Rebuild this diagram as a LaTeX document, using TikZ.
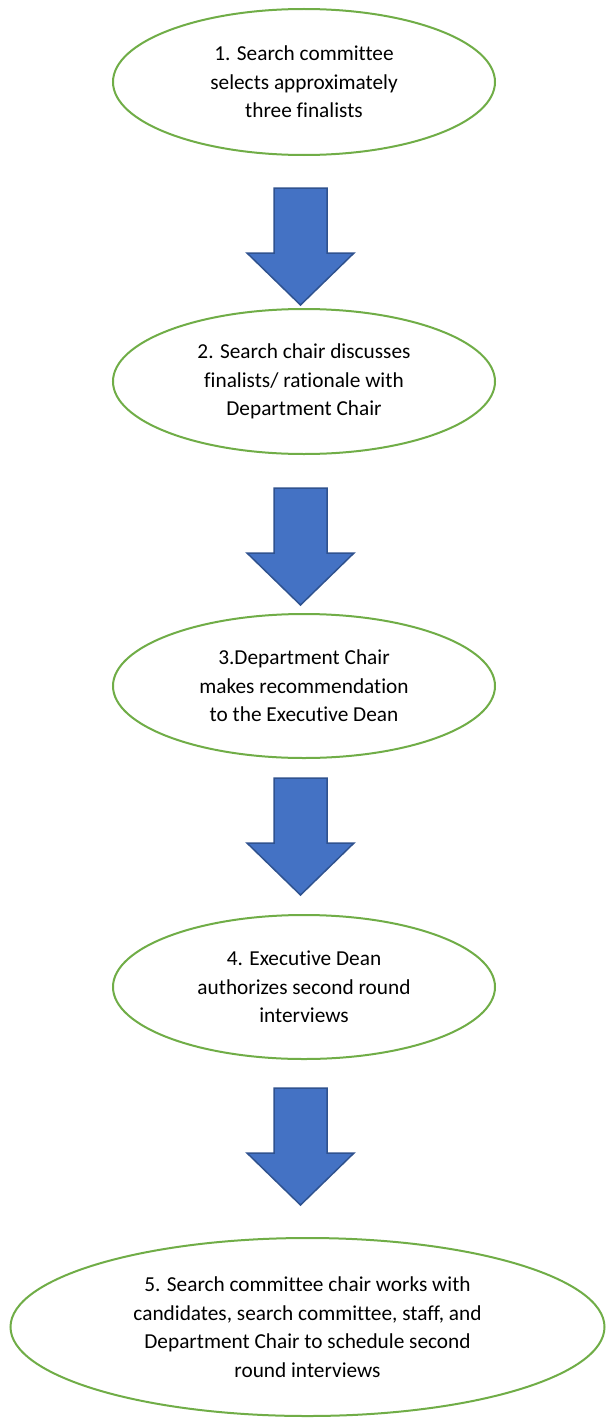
\documentclass[tikz,border=0pt]{standalone}
\usepackage{fontspec}
\setmainfont{Carlito}[Ligatures=NoCommon]
\usetikzlibrary{shapes.geometric}
\definecolor{stepgreen}{HTML}{70AD47}
\definecolor{arrowfill}{HTML}{4472C4}
\definecolor{arrowedge}{HTML}{2F528F}
\tikzset{
  stepellipse/.style={ellipse, draw=stepgreen, line width=2pt, fill=white,
    inner sep=0pt, align=center, text=black,
    font=\fontsize{21.3}{28.5}\selectfont},
  blockarrow/.pic={
    \draw[fill=arrowfill, draw=arrowedge, line width=1.5pt, line join=miter]
      (-26.5,0) -- (26.5,0) -- (26.5,65) -- (53.5,65) -- (0,117)
      -- (-53.5,65) -- (-26.5,65) -- cycle;
  }
}
\begin{document}
\begin{tikzpicture}[x=1pt, y=-1pt]
  \useasboundingbox (0,0) rectangle (605,1418);

  % process steps
  \node[stepellipse, minimum width=382pt, minimum height=146pt] (s1) at (304,82)
    {1. Search committee\\selects approximately\\three finalists};
  \node[stepellipse, minimum width=382pt, minimum height=145pt] (s2) at (304,381.5)
    {2. Search chair discusses\\finalists/ rationale with\\Department Chair};
  \node[stepellipse, minimum width=382pt, minimum height=144pt] (s3) at (304,686)
    {3.Department Chair\\makes recommendation\\to the Executive Dean};
  \node[stepellipse, minimum width=382pt, minimum height=144pt] (s4) at (304,987)
    {4. Executive Dean\\authorizes second round\\interviews};
  \node[stepellipse, minimum width=594pt, minimum height=178pt] (s5) at (307.5,1327)
    {5. Search committee chair works with\\candidates, search committee, staff, and\\Department Chair to schedule second\\round interviews};

  % block arrows between steps
  \coordinate (a1) at (300.5,188);
  \coordinate (a2) at (300.5,488);
  \coordinate (a3) at (300.5,778);
  \coordinate (a4) at (300.5,1088);
  \foreach \a in {a1,a2,a3,a4}
    \pic at (\a) {blockarrow};
\end{tikzpicture}
\end{document}
